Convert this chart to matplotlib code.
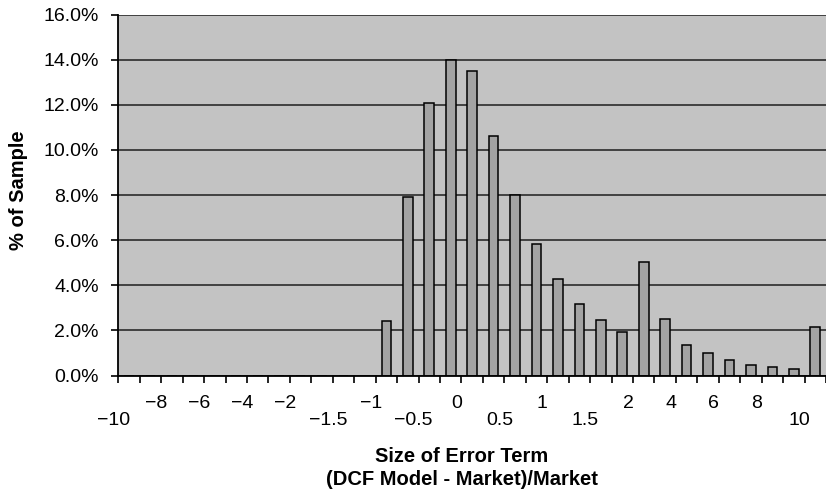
import numpy as np
import matplotlib
matplotlib.use("Agg")
import matplotlib.pyplot as plt

plt.rcParams['font.family'] = ['Liberation Sans', 'DejaVu Sans']

# share of sample per bin (%), 33 bins
pct_sample = [0, 0, 0, 0, 0, 0, 0, 0, 0, 0, 0, 0,
              2.4, 7.9, 12.1, 14.0, 13.5, 10.6, 8.0, 5.85, 4.3, 3.15,
              2.45, 1.95, 5.05, 2.5, 1.35, 1.0, 0.7, 0.45, 0.37, 0.3, 2.15]
# bin edge labels, one every second bin boundary
edge_labels = ["\u221210", "\u22128", "\u22126", "\u22124", "\u22122", "\u22121.5",
               "\u22121", "\u22120.5", "0", "0.5", "1", "1.5", "2", "4", "6", "8", "10"]
lower_row = {"\u221210", "\u22121.5", "\u22120.5", "0.5", "1.5", "10"}
y_ticks = [0, 2, 4, 6, 8, 10, 12, 14, 16]

fig = plt.figure(figsize=(8.26, 4.95), dpi=100)
ax = fig.add_axes([118.3 / 826, 1 - 375.5 / 495, 1 - 118.3 / 826, (375.5 - 14.7) / 495])
ax.set_facecolor("#c3c3c3")
ax.set_axisbelow(True)

x = np.arange(len(pct_sample))
ax.bar(x, pct_sample, width=0.45, color="#a3a3a3", edgecolor="black", linewidth=1.1)

ax.set_ylim(0, 16)
ax.set_yticks(y_ticks)
ax.set_yticklabels(["%.1f%%" % v for v in y_ticks])
ax.yaxis.grid(True, color="#1e1e1e", linewidth=1.1)
ax.set_xlim(-0.5, -0.5 + (826 - 118.3) / 21.54)

# tick marks at every bin boundary, labels drawn separately in two rows
ax.set_xticks(np.arange(len(pct_sample) + 1) - 0.5)
ax.set_xticklabels([])
ax.tick_params(axis="x", length=5, width=1.2, color="black", direction="out")
ax.tick_params(axis="y", length=5, width=1.2, color="black", labelsize=14, pad=9)

for s in ["top", "right"]:
    ax.spines[s].set_visible(False)
for s in ["left", "bottom"]:
    ax.spines[s].set_linewidth(1.3)
    ax.spines[s].set_color("black")

for i, lab in enumerate(edge_labels):
    dy = -49.5 if lab in lower_row else -32.5
    ax.annotate(lab, xy=(2 * i - 0.5, 0), xycoords=("data", "axes fraction"),
                xytext=(-5, dy), textcoords="offset pixels",
                ha="center", va="baseline", fontsize=14, annotation_clip=False)

fig.text(462 / 826, 1 - 462 / 495, "Size of Error Term", ha="center", va="baseline",
         fontsize=14.5, fontweight="bold")
fig.text(462 / 826, 1 - 485 / 495, "(DCF Model - Market)/Market", ha="center",
         va="baseline", fontsize=14.5, fontweight="bold")
fig.text(18.5 / 826, 1 - 190 / 495, "% of Sample", rotation=90, ha="center",
         va="center", fontsize=14.5, fontweight="bold")

fig.savefig("out.png", dpi=100)
